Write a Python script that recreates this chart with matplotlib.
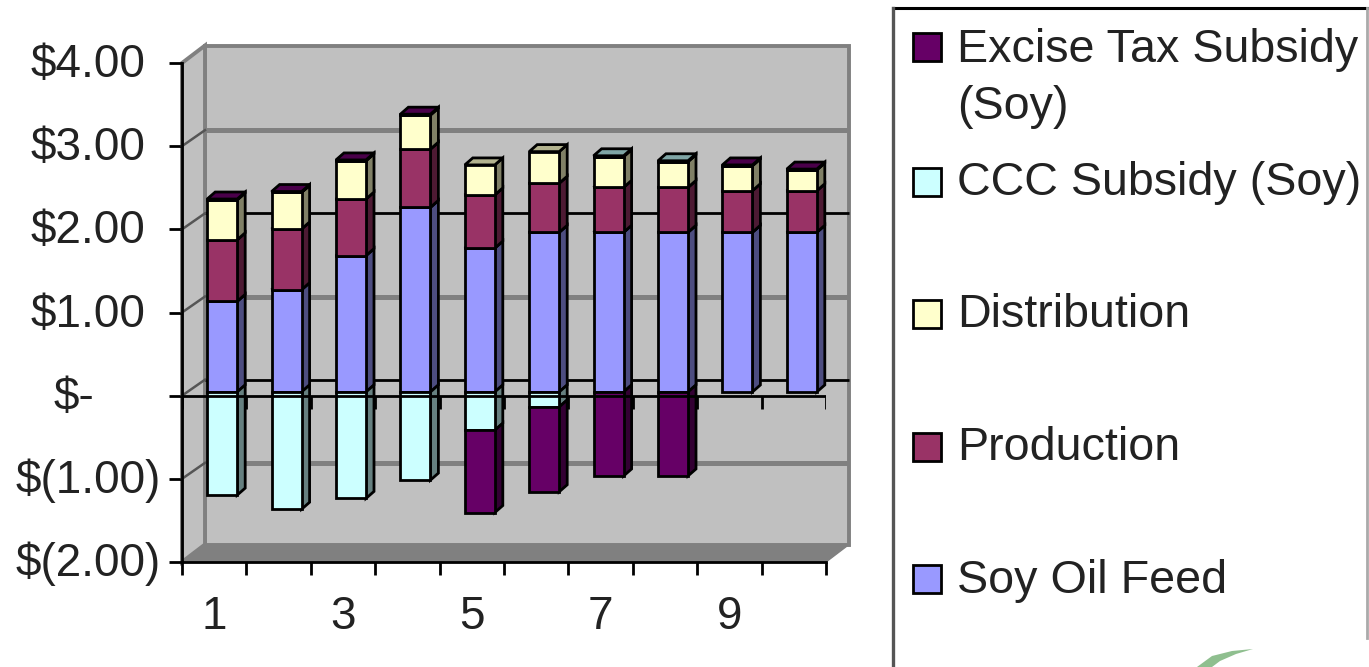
import numpy as np
import matplotlib
matplotlib.use("Agg")
import matplotlib.pyplot as plt
from matplotlib.patches import Polygon, Rectangle
from matplotlib.transforms import ScaledTranslation

plt.rcParams['font.family'] = ['Liberation Sans', 'DejaVu Sans']

categories = [1, 2, 3, 4, 5, 6, 7, 8, 9, 10]
soy_oil_feed = [1.09, 1.23, 1.64, 2.22, 1.73, 1.92, 1.92, 1.92, 1.92, 1.92]
production = [0.74, 0.73, 0.68, 0.70, 0.64, 0.59, 0.54, 0.54, 0.50, 0.50]
distribution = [0.48, 0.44, 0.46, 0.41, 0.36, 0.38, 0.37, 0.31, 0.30, 0.25]
ccc_subsidy = [-1.24, -1.41, -1.28, -1.06, -0.46, -0.18, 0.01, 0.01, 0.0, 0.0]
excise_subsidy = [0.01, 0.01, 0.01, 0.01, -0.99, -1.02, -1.01, -1.01, 0.01, 0.01]

y_ticks = [4, 3, 2, 1, 0, -1, -2]
y_labels = ["$4.00", "$3.00", "$2.00", "$1.00", "$-", "$(1.00)", "$(2.00)"]
x_labels = ["1", "", "3", "", "5", "", "7", "", "9", ""]

# series in stacking order: values, front colour, side colour, top colour
series = [
    (soy_oil_feed, "#9999FF", "#4D4D80", "#6F6FB8"),
    (production, "#993366", "#4D1A33", "#6E2549"),
    (distribution, "#FFFFCC", "#808066", "#B3B38F"),
    (ccc_subsidy, "#CCFFFF", "#668080", "#7FA5A5"),
    (excise_subsidy, "#660066", "#330033", "#4A004A"),
]

W, H = 1369, 667
fig = plt.figure(figsize=(W / 100, H / 100), dpi=100, facecolor="white")

# plot area runs 182-826 px across and 63-562 px down
ax = fig.add_axes([182 / W, 1 - 562 / H, (826 - 182) / W, (562 - 63) / H])
ax.set_xlim(0, 10)
ax.set_ylim(-2, 4)
ax.patch.set_visible(False)
px_x = 10 / (826 - 182)
px_y = 6 / (562 - 63)

wall_dx = 23 * px_x
wall_dy = 17.5 * px_y
grid_dy = 16 * px_y
bar_dx = 8 * px_x
bar_dy = 7 * px_y
bar_w = 30 * px_x
bar_off = 8 * px_x
bar_lift = 3.7 * px_y
bar_lw = 2.0

# back wall, left wall, floor
ax.add_patch(Polygon([(wall_dx, -2 + wall_dy), (10 + wall_dx, -2 + wall_dy), (10 + wall_dx, 4 + wall_dy), (wall_dx, 4 + wall_dy)],
                     facecolor="#C0C0C0", edgecolor="#808080", linewidth=2.8, clip_on=False, zorder=1))
ax.add_patch(Polygon([(0, -2), (wall_dx, -2 + wall_dy), (wall_dx, 4 + wall_dy), (0, 4)],
                     facecolor="#C0C0C0", edgecolor="#808080", linewidth=2.8, clip_on=False, zorder=1))
ax.add_patch(Polygon([(0, -2), (wall_dx, -2 + wall_dy), (10 + wall_dx, -2 + wall_dy), (10, -2)],
                     facecolor="#808080", edgecolor="#808080", linewidth=1, clip_on=False, zorder=1))

# gridlines on the wall, some came out black in the screenshot
for v in y_ticks[1:-1]:
    c = "black" if v in (2, 0) else "#808080"
    lw = 2.0 if v in (2, 0) else 3.6
    ax.plot([wall_dx, 10 + wall_dx], [v + grid_dy, v + grid_dy], color=c, linewidth=lw,
            clip_on=False, zorder=2, solid_capstyle="butt")
    ax.plot([0, wall_dx], [v, v + grid_dy], color="#555555", linewidth=1.8, clip_on=False, zorder=2)

x = np.arange(len(categories)) + 0.5 + bar_off
pos_base = np.full(len(categories), bar_lift)
neg_base = np.full(len(categories), bar_lift)

for values, front, side, top in series:
    values = np.array(values)
    pos = np.clip(values, 0, None)
    neg = np.clip(values, None, 0)
    bottoms = np.where(values >= 0, pos_base, neg_base)
    ax.bar(x, values, bar_w, bottom=bottoms, color=front, edgecolor="black", linewidth=bar_lw,
           clip_on=False, zorder=4)
    for i in range(len(x)):
        if values[i] == 0:
            continue
        r = x[i] + bar_w / 2
        l = x[i] - bar_w / 2
        y0 = bottoms[i]
        y1 = y0 + values[i]
        ax.add_patch(Polygon([(r, y0), (r + bar_dx, y0 + bar_dy), (r + bar_dx, y1 + bar_dy), (r, y1)],
                             facecolor=side, edgecolor="black", linewidth=bar_lw, clip_on=False, zorder=3))
        if values[i] > 0:
            ax.add_patch(Polygon([(l, y1), (r, y1), (r + bar_dx, y1 + bar_dy), (l + bar_dx, y1 + bar_dy)],
                                 facecolor=top, edgecolor="black", linewidth=bar_lw, clip_on=False, zorder=3))
    pos_base = pos_base + pos
    neg_base = neg_base + neg

# zero line and its ticks sit in front of the bars
ax.axhline(0, color="black", linewidth=2.0, zorder=5)
ax.vlines(np.arange(0, 11), -13 * px_y, 0, color="black", linewidth=2.0, zorder=5)

for s in ["top", "right"]:
    ax.spines[s].set_visible(False)
for s in ["left", "bottom"]:
    ax.spines[s].set_linewidth(2.0)
    ax.spines[s].set_zorder(6)

ax.set_xticks(np.arange(0, 11))
ax.set_xticklabels([])
ax.set_xticks(np.arange(len(categories)) + 0.5, minor=True)
ax.set_xticklabels(x_labels, minor=True, fontsize=33, color="#222222")
ax.tick_params(axis="x", which="major", length=9.4, width=2.0)
ax.tick_params(axis="x", which="minor", length=0, pad=24)
ax.set_yticks(y_ticks)
ax.set_yticklabels(y_labels, fontsize=33, color="#222222")
ax.tick_params(axis="y", length=9.4, width=2.0, pad=6)

# accounting format keeps room for the closing bracket
shifts = [-15, -15, -15, -15, -66, 0, 0]
for lab, s in zip(ax.get_yticklabels(), shifts):
    lab.set_transform(lab.get_transform() + ScaledTranslation(s / 100, 3 / 100, fig.dpi_scale_trans))

# legend box, swatches and the stray logo corner, in pixels
pg = fig.add_axes([0, 0, 1, 1])
pg.set_xlim(0, W)
pg.set_ylim(H, 0)
pg.axis("off")
pg.plot([893, W], [8, 8], color="black", linewidth=2.2)
pg.plot([893, 893], [8, H], color="#555555", linewidth=2.4)
pg.plot([1367, 1367], [8, 638], color="#AAAAAA", linewidth=2)

legend_rows = [
    ("Excise Tax Subsidy", 62, "#660066", 33),
    ("CCC Subsidy (Soy)", 195, "#CCFFFF", 168),
    ("Distribution", 327, "#FFFFCC", 300),
    ("Production", 460, "#993366", 433),
    ("Soy Oil Feed", 593, "#9999FF", 565),
]
for name, base, col, top_y in legend_rows:
    pg.add_patch(Rectangle((913, top_y), 28, 28, facecolor=col, edgecolor="black", linewidth=2.0))
    pg.text(957, base, name, fontsize=33.6, color="#222222", va="baseline", ha="left")
pg.text(957, 119, "(Soy)", fontsize=33.6, color="#222222", va="baseline", ha="left")

pg.add_patch(Polygon([(1197, 667), (1212, 656), (1232, 651), (1253, 649), (1236, 654), (1220, 661), (1212, 667)],
                     facecolor="#8FBF8F", edgecolor="none"))

fig.savefig("out.png", dpi=100)
